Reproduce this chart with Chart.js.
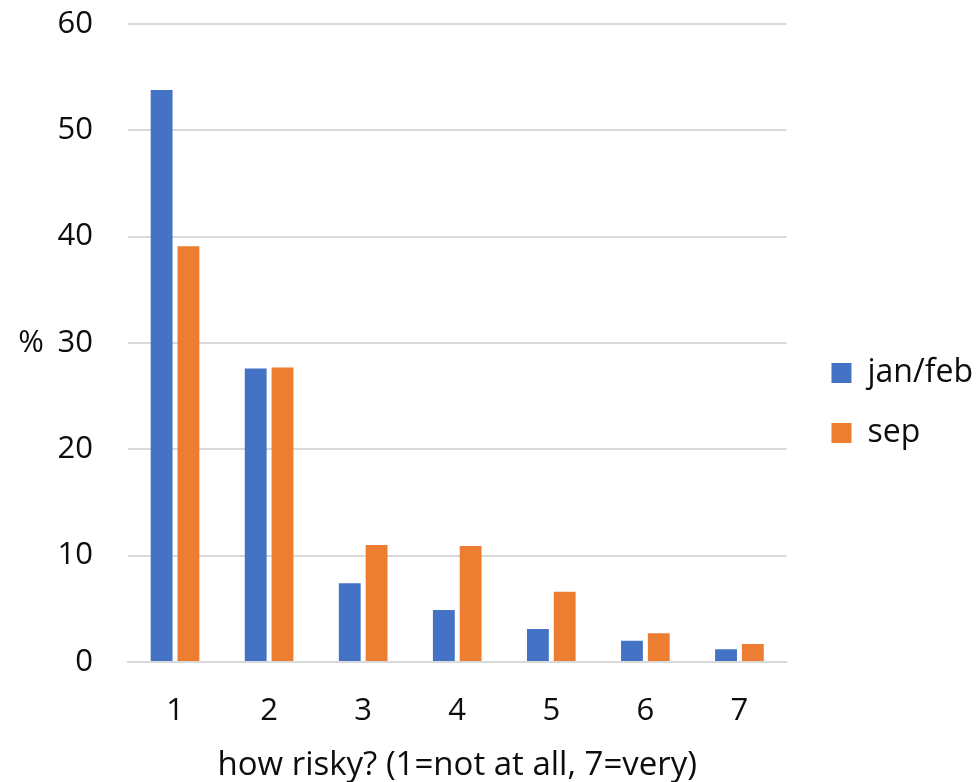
<!DOCTYPE html>
<html>
<head>
<meta charset="utf-8">
<script src="https://cdn.jsdelivr.net/npm/chart.js@4.4.1/dist/chart.umd.min.js"></script>
<style>
  html, body { margin: 0; padding: 0; background: #fff; }
  #wrap { width: 978px; height: 782px; }
</style>
</head>
<body>
<div id="wrap"><canvas id="c" width="978" height="782"></canvas></div>
<script>
// Survey answers: share of respondents per risk rating
const categories = ['1', '2', '3', '4', '5', '6', '7'];
const janFeb = [53.8, 27.6, 7.4, 4.9, 3.1, 2.0, 1.2];
const sep = [39.1, 27.7, 11.0, 10.9, 6.6, 2.7, 1.7];
const seriesNames = ['jan/feb', 'sep'];
const yTicks = [0, 10, 20, 30, 40, 50, 60];
const xTitle = 'how risky? (1=not at all, 7=very)';
const yTitle = '%';

const FONT = 'Open Sans';
const TICK_SIZE = 31;
const LEGEND_SIZE = 32;
const TITLE_SIZE = 33;
const TEXT = '#0d0d0d';
const GRID = '#d9d9d9';

// Horizontal "%" label placed left of the value axis, at its middle
const yTitlePlugin = {
  id: 'yTitle',
  afterDraw(chart) {
    const { ctx, chartArea } = chart;
    ctx.save();
    ctx.font = TICK_SIZE + 'px "' + FONT + '"';
    ctx.fillStyle = TEXT;
    ctx.textAlign = 'right';
    ctx.textBaseline = 'middle';
    ctx.fillText(yTitle, 44, (chartArea.top + chartArea.bottom) / 2);
    ctx.restore();
  }
};

function draw() {
  new Chart(document.getElementById('c'), {
    type: 'bar',
    data: {
      labels: categories,
      datasets: [
        { label: seriesNames[0], data: janFeb, backgroundColor: '#4472C4',
          categoryPercentage: 0.57, barPercentage: 0.815 },
        { label: seriesNames[1], data: sep, backgroundColor: '#ED7D31',
          categoryPercentage: 0.57, barPercentage: 0.815 }
      ]
    },
    options: {
      responsive: false,
      animation: false,
      devicePixelRatio: 1,
      layout: { padding: { top: 24, right: -5, bottom: 0, left: 0 } },
      plugins: {
        legend: {
          position: 'right',
          maxWidth: 300,
          labels: {
            font: { family: FONT, size: LEGEND_SIZE },
            color: TEXT,
            boxWidth: 20,
            boxHeight: 20,
            padding: 28
          }
        },
        tooltip: { enabled: false }
      },
      scales: {
        x: {
          grid: { display: false, drawTicks: false },
          border: { display: true, color: GRID, width: 2 },
          ticks: { font: { family: FONT, size: TICK_SIZE }, color: TEXT, padding: 31 },
          title: {
            display: true,
            text: xTitle,
            font: { family: FONT, size: TITLE_SIZE },
            color: TEXT,
            padding: { top: 10, bottom: -3 }
          },
          afterFit(scale) { scale.height = 120; }
        },
        y: {
          min: 0,
          max: 60,
          afterBuildTicks(scale) { scale.ticks = yTicks.map(v => ({ value: v })); },
          grid: { color: GRID, lineWidth: 2, drawTicks: false },
          border: { display: false },
          ticks: { font: { family: FONT, size: TICK_SIZE }, color: TEXT, padding: 35 },
          afterFit(scale) {
            scale.width = 128;
            scale.paddingTop = 0;
            scale.paddingBottom = 0;
          }
        },
        gap: {
          position: 'right',
          display: true,
          grid: { display: false, drawTicks: false },
          border: { display: false },
          ticks: { display: false },
          afterFit(scale) { scale.width = 17; }
        }
      }
    },
    plugins: [yTitlePlugin]
  });
}

// Make sure text is measured with the real face before layout
const faces = [TICK_SIZE, LEGEND_SIZE, TITLE_SIZE].map(s => document.fonts.load(s + 'px "' + FONT + '"'));
Promise.all(faces).then(draw, draw);
</script>
</body>
</html>
